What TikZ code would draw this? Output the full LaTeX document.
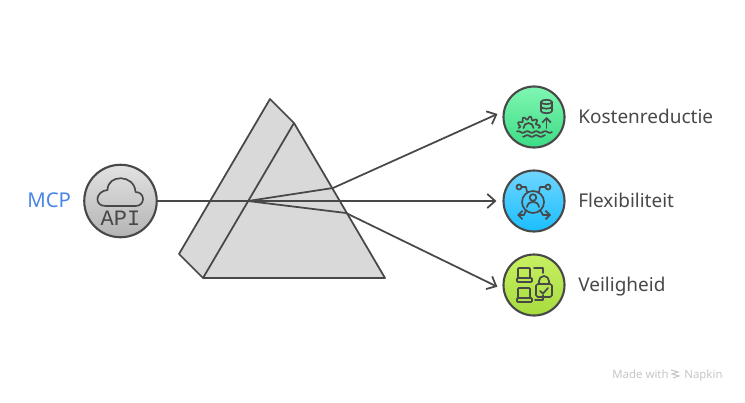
\documentclass[tikz,border=0pt]{standalone}
\usepackage{fontspec}
\setmainfont{Noto Sans}
\newfontfamily\apifont{Liberation Mono}
\usepackage{xcolor}
\usetikzlibrary{arrows.meta}
\definecolor{darkline}{HTML}{484848}
\definecolor{prismgray}{HTML}{D9D9D9}
\definecolor{mcpblue}{HTML}{4A86E8}
\definecolor{markgray}{HTML}{C6C6C6}
\definecolor{apitop}{HTML}{E2E2E2}
\definecolor{apibottom}{HTML}{B4B4B4}
\definecolor{greentop}{HTML}{80F6B2}
\definecolor{greenbottom}{HTML}{3CDC86}
\definecolor{bluetop}{HTML}{70D6FF}
\definecolor{bluebottom}{HTML}{1ABEFF}
\definecolor{limetop}{HTML}{C8F062}
\definecolor{limebottom}{HTML}{A6DC3E}
\tikzset{
	badge/.style={draw=darkline,circle,line width=1.2pt,inner sep=0pt,minimum size=12.2mm},
	iconline/.style={draw=darkline,line width=0.95pt,line cap=round,line join=round},
	ray/.style={draw=darkline,line width=1pt},
	label/.style={anchor=base west,inner sep=0pt,text=darkline,font=\fontsize{10.8}{12}\selectfont},
	watermark/.style={anchor=base west,text=markgray,inner sep=0pt,font=\fontsize{6.5}{8}\selectfont},
	smalltip/.style={>={Straight Barb[length=2.5pt,width=5pt]}}
}
\begin{document}
\begin{tikzpicture}[>={Straight Barb[length=4.5pt,width=8pt]}]
	\useasboundingbox (0,0) rectangle (14.9,8.04);
	% prism
	\coordinate (top) at (5.40,6.06);
	\coordinate (ridge) at (5.88,5.58);
	\coordinate (right) at (7.70,2.48);
	\coordinate (foot) at (4.06,2.48);
	\coordinate (left) at (3.58,2.96);
	\coordinate (hit) at (4.96,4.02);
	\coordinate (bendup) at (6.66,4.28);
	\coordinate (benddown) at (6.92,3.78);
	\fill[prismgray] (top) -- (ridge) -- (right) -- (foot) -- (left) -- cycle;
	% nodes
	\node	(api) at (2.41,4.02) [badge,minimum size=14.5mm,top color=apitop,bottom color=apibottom] {};
	\node	(kosten) at (10.68,5.70) [badge,top color=greentop,bottom color=greenbottom] {};
	\node	(flex) at (10.68,4.02) [badge,top color=bluetop,bottom color=bluebottom] {};
	\node	(veilig) at (10.68,2.34) [badge,top color=limetop,bottom color=limebottom] {};
	\node	(mcp) at (0.54,3.89) [label,text=mcpblue,font=\fontsize{11.6}{12}\selectfont] {MCP};
	\node	(kostenlabel) at (11.56,5.57) [label] {Kostenreductie};
	\node	(flexlabel) at (11.56,3.89) [label] {Flexibiliteit};
	\node	(veiliglabel) at (11.56,2.21) [label] {Veiligheid};
	\node	(made) at (12.24,0.48) [watermark] {Made with};
	\node	(napkin) at (13.68,0.48) [watermark] {Napkin};
	% connectors
	\draw[ray,->,shorten >=3.4pt] (api) -- (flex);
	\draw[ray,->,shorten >=3.4pt] (hit) -- (bendup) -- (kosten.170);
	\draw[ray,->,shorten >=3.4pt] (hit) -- (benddown) -- (veilig.188);
	\draw[draw=darkline,line width=1pt,line join=round] (top) -- (ridge) -- (right) -- (foot) -- (left) -- cycle;
	\draw[draw=darkline,line width=1pt] (ridge) -- (foot);
	% api icon
	\begin{scope}[shift={(api.center)},x=0.2mm,y=0.2mm]
		\draw[iconline] (-15,-5) -- (15,-5) .. controls (25,-5) and (25,9) .. (15,9) .. controls (14,27) and (-13,27) .. (-13,11) .. controls (-25,10) and (-27,-5) .. (-15,-5);
		\node	(apitext) at (0,-17) [inner sep=0pt,text=darkline,font=\apifont\fontsize{12.5}{12}\selectfont] {API};
	\end{scope}
	% kosten icon
	\begin{scope}[shift={(kosten.center)},x=0.2mm,y=0.2mm]
		\draw[iconline] (7,15) arc[start angle=180,end angle=540,x radius=5.5,y radius=2.2];
		\draw[iconline] (7,15) -- (7,6) arc[start angle=180,end angle=360,x radius=5.5,y radius=2.2] -- (18,15);
		\draw[iconline] (7,10.5) arc[start angle=180,end angle=360,x radius=5.5,y radius=2.2];
		\draw[iconline,smalltip,->] (12.5,-11) -- (12.5,0);
		\draw[iconline] plot[domain=0:180,samples=70] ({-5.5+(10+1.6*sin(10*\x))*cos(\x)},{-11+(10+1.6*sin(10*\x))*sin(\x)});
		\draw[iconline] (-0.5,-11) arc[start angle=0,end angle=180,radius=5];
		\draw[iconline] plot[domain=-17:18,samples=40] (\x,{-15+0.8*sin(40*\x)});
		\draw[iconline] plot[domain=-11:11,samples=30] (\x,{-19+0.8*sin(40*\x)});
	\end{scope}
	% flex icon
	\begin{scope}[shift={(flex.center)},x=0.2mm,y=0.2mm]
		\draw[iconline] (-1,-1) circle[radius=11];
		\draw[iconline] (-1,3.5) circle[radius=3.3];
		\draw[iconline] (-7,-6) .. controls (-6,1) and (4,1) .. (5,-6);
		\draw[iconline] (-15,14) circle[radius=2.5];
		\draw[iconline] (14,14) circle[radius=2.5];
		\draw[iconline] (-12.5,14) -- (-8,14) -- (-7,9);
		\draw[iconline] (11.5,14) -- (6,14) -- (5,9);
		\draw[iconline,smalltip,->] (-8,-9) -- (-10,-14) -- (-17,-14);
		\draw[iconline,smalltip,->] (6,-9) -- (9,-14) -- (17,-14);
	\end{scope}
	% veilig icon
	\begin{scope}[shift={(veilig.center)},x=0.2mm,y=0.2mm]
		\draw[iconline,rounded corners=0.5pt] (-16,7) rectangle (-4,17);
		\draw[iconline,rounded corners=0.5pt] (-17,3) rectangle (-2,7);
		\draw[iconline,rounded corners=0.5pt] (-16,-13) rectangle (-4,-3);
		\draw[iconline,rounded corners=0.5pt] (-17,-17) rectangle (-2,-13);
		\draw[iconline,rounded corners=1pt] (2,-12) rectangle (18,1);
		\draw[iconline] (5,1) -- (5,4) arc[start angle=180,end angle=0,radius=5] -- (15,1);
		\draw[iconline] (6,-6) -- (9,-8.5) -- (14,-3);
		\draw[iconline] (0,17) -- (9,17) -- (9,12);
		\draw[iconline] (1,-15) -- (9,-15) -- (9,-10);
	\end{scope}
	% napkin mark
	\begin{scope}[shift={(13.5,0.56)},x=0.2mm,y=0.2mm]
		\draw[draw=markgray,line width=0.6pt] (-4,4) -- (3,2) -- (-3,0) -- (4,-2) -- (-2,-4);
	\end{scope}
\end{tikzpicture}
\end{document}
